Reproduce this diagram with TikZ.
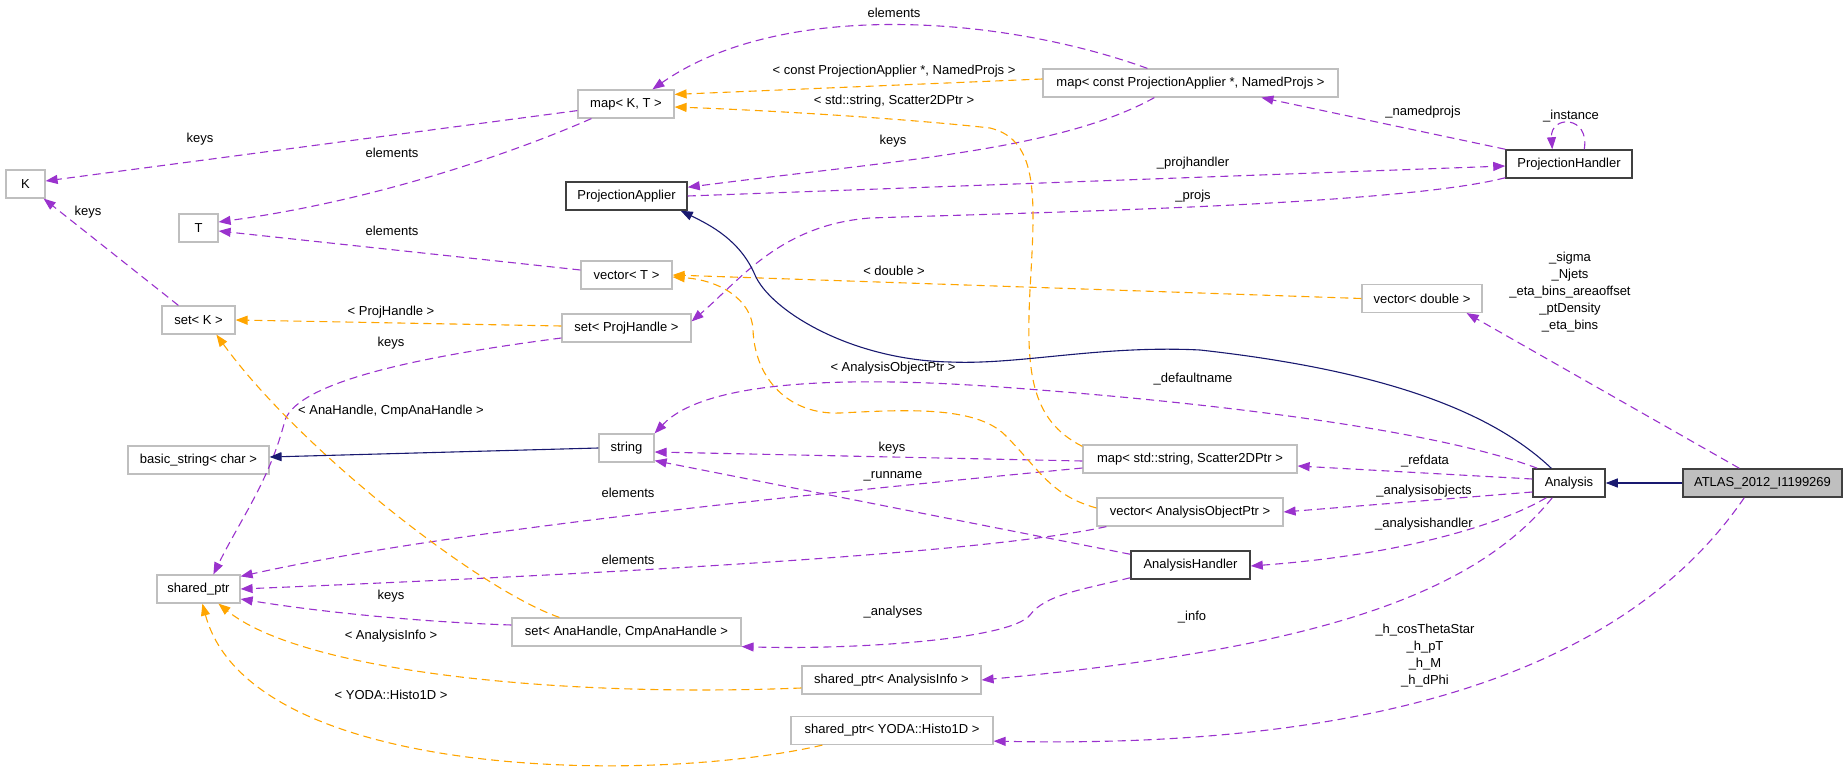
\documentclass[tikz,border=0pt]{standalone}
\usepackage{fontspec}
\setmainfont{Liberation Sans}
\usetikzlibrary{arrows.meta,calc}
\definecolor{purp}{HTML}{9A32CD}
\definecolor{orng}{HTML}{FFA500}
\definecolor{navy}{HTML}{191970}
\definecolor{boxgrey}{HTML}{BFBFBF}
\definecolor{boxdark}{HTML}{404040}
\begin{document}
\begin{tikzpicture}[x=1pt,y=-1pt,
  font=\fontsize{13}{17}\selectfont,
  gbox/.style={draw=boxgrey, line width=1.2pt, fill=white, minimum height=28pt, inner sep=0pt},
  dbox/.style={draw=boxdark, line width=1.5pt, fill=white, minimum height=28pt, inner sep=0pt},
  lbl/.style={inner sep=0pt, align=center},
  tip/.style={-{Triangle[length=12pt,width=9pt]}},
  use/.style={draw=purp, line width=1.1pt, dash pattern=on 8pt off 5pt, tip},
  tmpl/.style={draw=orng, line width=1.1pt, dash pattern=on 8pt off 5pt, tip},
  inh/.style={draw=navy, line width=1.1pt, tip},
]
\useasboundingbox (0,0) rectangle (1848,770);
% nodes
\node[gbox, minimum width=39pt] (K) at (25.5,184) {K};
\node[gbox, minimum width=39pt] (T) at (198.5,228) {T};
\node[gbox, minimum width=96pt] (mkt) at (626,104) {map< K, T >};
\node[gbox, minimum width=295pt] (cm) at (1190.5,83) {map< const ProjectionApplier *, NamedProjs >};
\node[dbox, minimum width=121pt] (PA) at (626.5,196) {ProjectionApplier};
\node[dbox, minimum width=126pt] (PH) at (1569,164) {ProjectionHandler};
\node[gbox, minimum width=91pt] (vT) at (626.5,275) {vector< T >};
\node[gbox, minimum width=120pt] (vd) at (1422,298.5) {vector< double >};
\node[gbox, minimum width=73pt] (sK) at (198.5,320) {set< K >};
\node[gbox, minimum width=129pt] (sPH) at (626.5,328) {set< ProjHandle >};
\node[gbox, minimum width=141pt] (bs) at (198.5,460) {basic\_string< char >};
\node[gbox, minimum width=55pt] (str) at (626.5,448) {string};
\node[gbox, minimum width=214pt] (mss) at (1190,459) {map< std::string, Scatter2DPtr >};
\node[gbox, minimum width=186pt] (vAOP) at (1190,512) {vector< AnalysisObjectPtr >};
\node[dbox, minimum width=72pt] (An) at (1569,483) {Analysis};
\node[draw=boxdark, line width=1.5pt, fill=boxgrey, minimum height=28pt, inner sep=0pt, minimum width=159pt] (AT) at (1762.5,483) {ATLAS\_2012\_I1199269};
\node[dbox, minimum width=119pt] (AH) at (1190.5,565) {AnalysisHandler};
\node[gbox, minimum width=83pt] (sp) at (198.5,589) {shared\_ptr};
\node[gbox, minimum width=229pt] (sAna) at (626.5,632) {set< AnaHandle, CmpAnaHandle >};
\node[gbox, minimum width=179pt] (sAI) at (891.5,680) {shared\_ptr< AnalysisInfo >};
\node[gbox, minimum width=202pt] (sY) at (892,730.5) {shared\_ptr< YODA::Histo1D >};

% purple member edges
\draw[use] ($(cm.north west)+(105,0)$) .. controls (1000,15) and (780,0) .. ($(mkt.north west)+(75,0)$);
\draw[use] ($(cm.south west)+(112,0)$) .. controls (1060,150) and (900,160) .. ($(PA.north east)+(0,6)$);
\draw[use] (PH.north west) -- ($(cm.south west)+(219,0)$);
\draw[use] ($(PH.north west)+(79,0)$) .. controls (1590,115) and (1550,115) .. ($(PH.north west)+(47,0)$);
\draw[use] (PA.east) -- ($(PH.west)+(0,2)$);
\draw[use] ($(PH.south west)+(0,-1)$) .. controls (1400,205) and (1050,212) .. (870,218) .. controls (780,225) and (740,280) .. ($(sPH.north east)+(0,8)$);
\draw[use] ($(mkt.south west)+(0,-8)$) -- ($(K.east)+(0,-3)$);
\draw[use] ($(mkt.south west)+(14,0)$) .. controls (520,150) and (380,200) .. ($(T.east)+(0,-6)$);
\draw[use] ($(vT.west)+(0,-5)$) -- ($(T.east)+(0,3)$);
\draw[use] ($(sK.north west)+(17,0)$) -- ($(K.south east)+(-2,0)$);
\draw[use] ($(sPH.west)+(0,10)$) .. controls (430,355) and (300,380) .. (285,420) .. controls (270,480) and (240,520) .. ($(sp.north west)+(57,0)$);
\draw[use] ($(mss.west)+(0,2)$) -- ($(str.east)+(0,4)$);
\draw[use] ($(mss.west)+(0,9)$) .. controls (800,495) and (450,530) .. ($(sp.north east)+(0,2)$);
\draw[use] ($(vAOP.south west)+(10,0)$) .. controls (1000,550) and (700,570) .. (sp.east);
\draw[use] ($(sAna.west)+(0,-7)$) .. controls (420,622) and (320,612) .. ($(sp.east)+(0,10)$);
\draw[use] ($(AH.north west)+(0,4)$) -- ($(str.south east)+(0,-2)$);
\draw[use] ($(AH.south west)+(0,-2)$) .. controls (1080,590) and (1045,595) .. (1030,615) .. controls (1010,640) and (850,650) .. (sAna.south east);
\draw[use] ($(An.north west)+(5,0)$) .. controls (1450,435) and (1250,405) .. (1000,387) .. controls (820,374) and (700,385) .. (str.north east);
\draw[use] ($(An.west)+(0,-4)$) -- ($(mss.east)+(0,7)$);
\draw[use] ($(An.west)+(0,9)$) -- (vAOP.east);
\draw[use] ($(An.south west)+(14,0)$) .. controls (1500,525) and (1400,555) .. ($(AH.east)+(0,1)$);
\draw[use] ($(An.south west)+(20,0)$) .. controls (1470,600) and (1300,650) .. (sAI.east);
\draw[use] ($(AT.north west)+(57,0)$) -- ($(vd.south east)+(-16,0)$);
\draw[use] ($(AT.south west)+(62,0)$) .. controls (1640,650) and (1420,750) .. ($(sY.south east)+(0,-4)$);

% orange template edges
\draw[tmpl] ($(cm.west)+(0,-4)$) -- ($(mkt.north east)+(0,5)$);
\draw[tmpl] ($(mss.north west)+(0,2)$) .. controls (1030,420) and (1026,370) .. (1030,290) .. controls (1035,200) and (1040,140) .. (990,128) .. controls (900,118) and (760,110) .. ($(mkt.east)+(0,3)$);
\draw[tmpl] (vd.west) -- (vT.east);
\draw[tmpl] ($(vAOP.west)+(0,-4)$) .. controls (1050,495) and (1040,470) .. (1005,435) .. controls (975,405) and (900,410) .. (840,413) .. controls (790,415) and (755,380) .. (753,330) .. controls (752,300) and (720,280) .. ($(vT.east)+(0,2)$);
\draw[tmpl] ($(sPH.west)+(0,-2)$) -- (sK.east);
\draw[tmpl] ($(sAna.north west)+(48,0)$) .. controls (480,590) and (300,450) .. ($(sK.south west)+(55,0)$);
\draw[tmpl] ($(sAI.west)+(0,8)$) .. controls (550,698) and (300,670) .. ($(sp.south west)+(62,0)$);
\draw[tmpl] ($(sY.south west)+(32,0)$) .. controls (650,785) and (250,780) .. ($(sp.south west)+(46,0)$);

% navy inheritance edges
\draw[inh] ($(An.north west)+(19,0)$) .. controls (1490,410) and (1380,370) .. (1200,350) .. controls (1100,345) and (1020,365) .. (950,362) .. controls (850,360) and (770,310) .. (755,275) .. controls (740,240) and (710,225) .. ($(PA.south east)+(-7,0)$);
\draw[inh] (AT.west) -- (An.east);
\draw[inh] (str.west) -- ($(bs.east)+(0,-3)$);

% labels
\node[lbl] (l1) at (894,13) {elements};
\node[lbl] (l2) at (894,71) {< const ProjectionApplier *, NamedProjs >};
\node[lbl] (l3) at (894,101) {< std::string, Scatter2DPtr >};
\node[lbl] (l4) at (893,141) {keys};
\node[lbl] (l5) at (1193,163) {\_projhandler};
\node[lbl] (l6) at (1193,196) {\_projs};
\node[lbl] (l7) at (894,271) {< double >};
\node[lbl] (l8) at (1423,112) {\_namedprojs};
\node[lbl] (l9) at (1571,116) {\_instance};
\node[lbl] (l10) at (1570,292) {\_sigma\\\_Njets\\\_eta\_bins\_areaoffset\\\_ptDensity\\\_eta\_bins};
\node[lbl] (l11) at (200,139) {keys};
\node[lbl] (l12) at (392,153) {elements};
\node[lbl] (l13) at (88,212) {keys};
\node[lbl] (l14) at (392,231) {elements};
\node[lbl] (l15) at (391,312) {< ProjHandle >};
\node[lbl] (l16) at (391,343) {keys};
\node[lbl] (l17) at (391,411) {< AnaHandle, CmpAnaHandle >};
\node[lbl] (l18) at (628,493) {elements};
\node[lbl] (l19) at (628,560) {elements};
\node[lbl] (l20) at (391,596) {keys};
\node[lbl] (l21) at (391,636) {< AnalysisInfo >};
\node[lbl] (l22) at (391,695) {< YODA::Histo1D >};
\node[lbl] (l23) at (893,368) {< AnalysisObjectPtr >};
\node[lbl] (l24) at (1193,379) {\_defaultname};
\node[lbl] (l25) at (892,448) {keys};
\node[lbl] (l26) at (893,476) {\_runname};
\node[lbl] (l27) at (893,612) {\_analyses};
\node[lbl] (l28) at (1192,617) {\_info};
\node[lbl] (l29) at (1425,461) {\_refdata};
\node[lbl] (l30) at (1424,491) {\_analysisobjects};
\node[lbl] (l31) at (1424,524) {\_analysishandler};
\node[lbl] (l32) at (1425,656) {\_h\_cosThetaStar\\\_h\_pT\\\_h\_M\\\_h\_dPhi};
\end{tikzpicture}
\end{document}
